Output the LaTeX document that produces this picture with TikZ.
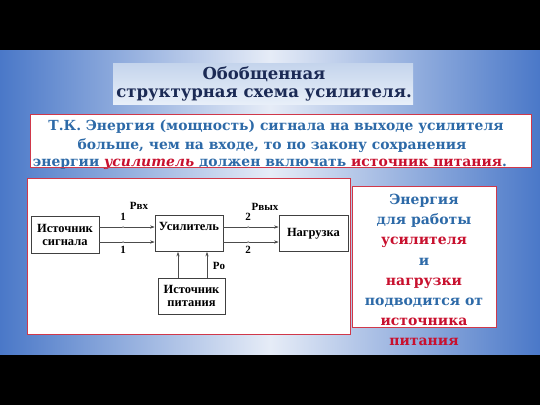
\documentclass[tikz,border=0pt]{standalone}
\usepackage{fontspec}
\setmainfont{DejaVu Serif}
\newfontfamily\diagfont{Liberation Serif}
\usetikzlibrary{arrows.meta}
\definecolor{bgblue}{HTML}{4A78C8}
\definecolor{bglight}{HTML}{E6ECF7}
\definecolor{txtblue}{HTML}{2D6AA8}
\definecolor{txtred}{HTML}{C8102E}
\definecolor{navy}{HTML}{1B2A55}
\definecolor{boxred}{HTML}{D0384A}
\definecolor{ttop}{HTML}{C4D4EC}
\definecolor{tbot}{HTML}{E8EFF9}
\tikzset{
  frame/.style={draw=boxred, line width=1.1pt},
  panel/.style={fill=white, inner sep=0pt},
  blk/.style={draw=black!75, line width=0.7pt, fill=white, align=center,
    font=\diagfont\bfseries\fontsize{12.5}{13}\selectfont, inner sep=1pt},
  lbl/.style={font=\diagfont\bfseries\fontsize{11}{12}\selectfont, inner sep=0pt},
  arr/.style={draw=black!70, line width=0.6pt, -{Stealth[length=4.5pt,width=3.2pt]}},
  dot/.style={circle, fill=black!35, inner sep=0pt, minimum size=2.2pt},
  bigtext/.style={font=\bfseries\fontsize{13.9}{15}\selectfont, inner sep=0pt}
}
\begin{document}
\begin{tikzpicture}[x=1pt,y=-1pt]
\useasboundingbox (0,0) rectangle (540,405);
\fill[black] (0,0) rectangle (540,405);
\shade[left color=bgblue, right color=bgblue, middle color=bglight] (0,50) rectangle (540,354);

% title
\shade[top color=ttop, bottom color=tbot] (113,63) rectangle (413,104);
\node[font=\bfseries\fontsize{16.5}{18}\selectfont, text=navy, align=center, inner sep=0pt] (title) at (264,84)
  {Обобщенная\\структурная схема усилителя.};

% message box
\node[panel, minimum width=500pt, minimum height=52pt] (msg) at (281,141) {};
\node[bigtext, text=txtblue] (l1) at (276,127) {Т.К. Энергия (мощность) сигнала на выходе усилителя};
\node[bigtext, text=txtblue] (l2) at (272,146) {больше, чем на входе, то по закону сохранения};
\node[bigtext, text=txtblue] (l3) at (270,164) {энергии \textcolor{txtred}{\itshape усилитель} должен включать \textcolor{txtred}{источник питания}.};
\draw[frame] (msg.north west) rectangle (msg.south east);

% right box
\node[panel, minimum width=143pt, minimum height=140pt] (energy) at (424.5,257) {};
\draw[frame] (energy.north west) rectangle (energy.south east);
\node[font=\bfseries\fontsize{14}{20.2}\selectfont, align=center, text=txtblue, inner sep=0pt] (etext) at (424,270)
  {Энергия\\для работы\\\textcolor{txtred}{усилителя}\\и\\\textcolor{txtred}{нагрузки}\\подводится от\\\textcolor{txtred}{источника}\\\textcolor{txtred}{питания}};

% diagram box
\node[panel, minimum width=322pt, minimum height=155pt] (diag) at (189,256.5) {};
\draw[frame] (diag.north west) rectangle (diag.south east);

\node[blk, minimum width=68pt, minimum height=37pt] (src) at (65,234.5) {Источник\\сигнала};
\node[blk, minimum width=68pt, minimum height=36pt] (amp) at (189,233.5) {Усилитель\\[2pt]};
\node[blk, minimum width=69pt, minimum height=36pt] (load) at (313.5,233.5) {Нагрузка};
\node[blk, minimum width=67pt, minimum height=36pt] (pwr) at (191.5,296) {Источник\\питания};

\draw[arr] ([yshift=7.5pt]src.east) -- ([yshift=7.5pt]src.east -| amp.west) node[dot, pos=0.43] (d1) {};
\draw[arr] ([yshift=-7.5pt]src.east) -- ([yshift=-7.5pt]src.east -| amp.west) node[dot, pos=0.43] (d2) {};
\draw[arr] ([yshift=6.5pt]amp.east) -- ([yshift=6.5pt]amp.east -| load.west) node[dot, pos=0.45] (d3) {};
\draw[arr] ([yshift=-8.5pt]amp.east) -- ([yshift=-8.5pt]amp.east -| load.west) node[dot, pos=0.45] (d4) {};
\draw[arr] ([xshift=-13.5pt]pwr.north) -- ([xshift=-13.5pt]pwr.north |- amp.south);
\draw[arr] ([xshift=15.5pt]pwr.north) -- ([xshift=15.5pt]pwr.north |- amp.south);

\node[lbl] (pin) at (139,206) {Pвх};
\node[lbl] (n1a) at (123,217) {1};
\node[lbl] (n1b) at (123,250) {1};
\node[lbl] (pout) at (265,207) {Pвых};
\node[lbl] (n2a) at (248,217) {2};
\node[lbl] (n2b) at (248,250) {2};
\node[lbl] (p0) at (219,266) {Pо};
\end{tikzpicture}
\end{document}
